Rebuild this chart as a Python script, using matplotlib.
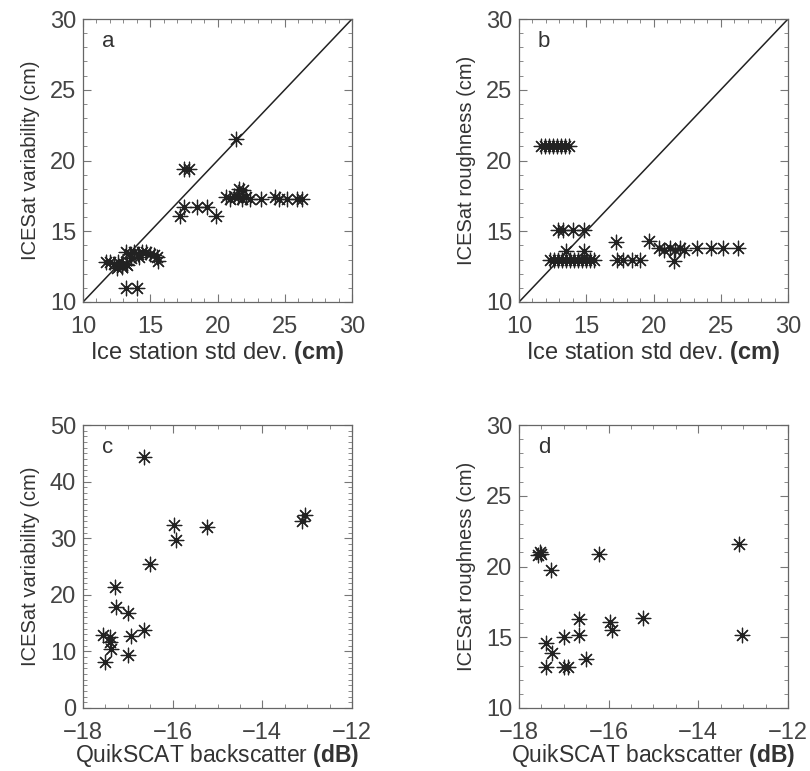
import matplotlib
matplotlib.use("Agg")
import matplotlib.pyplot as plt
from matplotlib.ticker import MultipleLocator

plt.rcParams['font.family'] = ['Liberation Sans', 'DejaVu Sans']
plt.rcParams['mathtext.fontset'] = 'custom'
plt.rcParams['mathtext.bf'] = 'Liberation Sans:bold'
plt.rcParams['mathtext.rm'] = 'Liberation Sans'
plt.rcParams['xtick.direction'] = 'in'
plt.rcParams['ytick.direction'] = 'in'

# panel a: ice station std dev vs ICESat variability
a_x = [11.7, 12.0, 12.3, 12.6, 12.9, 13.2, 12.5, 12.9, 13.3, 13.2, 13.5, 13.8,
       14.1, 14.4, 14.7, 15.0, 15.3, 13.6, 14.2, 15.5, 15.6, 13.2, 14.0,
       17.2, 17.5, 18.5, 19.2, 19.9, 17.5, 17.9, 21.4, 20.6, 20.9, 21.2,
       21.5, 21.8, 22.1, 22.4, 21.6, 21.9, 23.2, 24.3, 24.6, 25.2, 25.9, 26.3]
a_y = [12.8, 12.8, 12.7, 12.8, 12.6, 12.7, 12.4, 12.5, 12.6, 13.5, 13.4, 13.5,
       13.4, 13.5, 13.5, 13.4, 13.3, 13.1, 13.2, 13.2, 12.9, 11.0, 11.0,
       16.1, 16.7, 16.7, 16.7, 16.1, 19.4, 19.4, 21.5, 17.4, 17.3, 17.5,
       17.4, 17.3, 17.4, 17.3, 18.0, 17.9, 17.3, 17.4, 17.3, 17.3, 17.3, 17.3]

# panel b: ice station std dev vs ICESat roughness
b_x = [11.6, 11.9, 12.2, 12.5, 12.8, 13.1, 13.4, 13.7,
       12.9, 13.3, 14.0, 14.8,
       12.3, 12.6, 12.9, 13.2, 13.5, 13.8, 14.1, 14.4, 14.7, 15.0, 15.3, 15.6,
       13.5, 14.8,
       17.2, 17.25, 17.7, 18.4, 19.0, 19.7,
       20.4, 20.8, 21.2, 21.6, 22.0, 22.3, 21.5,
       23.2, 24.3, 25.2, 26.3]
b_y = [21.0, 21.0, 21.0, 21.0, 21.0, 21.0, 21.0, 21.0,
       15.1, 15.1, 15.1, 15.1,
       13.0, 13.0, 13.0, 13.0, 13.0, 13.0, 13.0, 13.0, 13.0, 13.0, 13.0, 13.0,
       13.6, 13.6,
       14.25, 13.0, 13.0, 13.0, 13.0, 14.3,
       13.8, 13.7, 13.8, 13.7, 13.8, 13.7, 12.9,
       13.8, 13.8, 13.8, 13.8]

# panel c: QuikSCAT backscatter vs ICESat variability
c_x = [-16.65, -15.98, -15.92, -15.23, -13.12, -13.04, -16.5, -17.29, -17.26,
       -17.0, -16.65, -16.92, -17.55, -17.39, -17.37, -17.4, -17.0, -17.52]
c_y = [44.4, 32.3, 29.7, 32.0, 33.1, 34.1, 25.4, 21.4, 17.9,
       16.7, 13.7, 12.8, 12.9, 12.5, 10.4, 11.7, 9.4, 8.1]

# panel d: QuikSCAT backscatter vs ICESat roughness
d_x = [-17.54, -17.58, -17.5, -17.28, -16.21, -13.09, -13.03, -16.66, -16.66,
       -17.0, -17.39, -17.26, -17.39, -17.0, -16.9, -16.5, -15.97, -15.92, -15.23]
d_y = [21.05, 20.8, 20.9, 19.75, 20.9, 21.6, 15.16, 16.27, 15.16,
       15.04, 14.57, 13.86, 12.92, 12.92, 12.92, 13.44, 16.1, 15.5, 16.34]

std_ticks = [10, 15, 20, 25, 30]
qs_ticks = [-18, -16, -14, -12]

fig = plt.figure(figsize=(8.1, 7.71), dpi=100)
W, H = 810.0, 771.0
boxes = {'a': (83, 19), 'b': (519, 19), 'c': (83, 425), 'd': (519, 425)}
axes = {}
for k, (x0, y0) in boxes.items():
    axes[k] = fig.add_axes([x0 / W, (H - y0 - 283) / H, 269 / W, 283 / H])

star = dict(marker=(8, 2, 0), s=110, color='#222222', linewidths=0.9)
tick_col = '#444444'


def style(ax, xlim, ylim, xt, yt, xminor, yminor):
    ax.set_xlim(xlim)
    ax.set_ylim(ylim)
    ax.set_xticks(xt)
    ax.set_yticks(yt)
    ax.set_xticklabels([str(t).replace('-', '\u2212') for t in xt])
    ax.xaxis.set_minor_locator(MultipleLocator(xminor))
    ax.yaxis.set_minor_locator(MultipleLocator(yminor))
    ax.tick_params(which='both', top=True, right=True, color='#777777',
                   labelsize=17, labelcolor=tick_col)
    ax.tick_params(which='major', length=6, width=0.8)
    ax.tick_params(which='minor', length=3, width=0.6)
    ax.tick_params(axis='x', pad=10)
    ax.tick_params(axis='y', pad=5)
    for sp in ax.spines.values():
        sp.set_color('#666666')
        sp.set_linewidth(0.9)


for k, xs, ys in [('a', a_x, a_y), ('b', b_x, b_y), ('c', c_x, c_y), ('d', d_x, d_y)]:
    axes[k].scatter(xs, ys, zorder=3, **star)

for k in ['a', 'b']:
    ax = axes[k]
    ax.plot([10, 30], [10, 30], color='#222222', lw=1.1)
    style(ax, (10, 30), (10, 30), std_ticks, std_ticks, 1, 1)
    ax.text(0.5, -0.178, r'Ice station std dev. $\mathbf{(cm)}$', transform=ax.transAxes,
            ha='center', va='center', fontsize=17, color='#333333')

style(axes['c'], (-18, -12), (0, 50), qs_ticks, [0, 10, 20, 30, 40, 50], 0.5, 1)
style(axes['d'], (-18, -12), (10, 30), qs_ticks, std_ticks, 0.5, 1)
for k in ['c', 'd']:
    axes[k].text(0.5, -0.168, r'QuikSCAT backscatter $\mathbf{(dB)}$',
                 transform=axes[k].transAxes, ha='center', va='center',
                 fontsize=16.5, color='#333333')

ylabels = {'a': 'ICESat variability (cm)', 'b': 'ICESat roughness (cm)',
           'c': 'ICESat variability (cm)', 'd': 'ICESat roughness (cm)'}
for k, lab in ylabels.items():
    axes[k].text(-0.197, 0.5, lab, transform=axes[k].transAxes, rotation=90,
                 ha='center', va='center', fontsize=14.5, color='#333333')
    axes[k].text(0.07, 0.92, k, transform=axes[k].transAxes, ha='left',
                 va='center', fontsize=16, color='#333333')

fig.savefig('out.png', dpi=100)
